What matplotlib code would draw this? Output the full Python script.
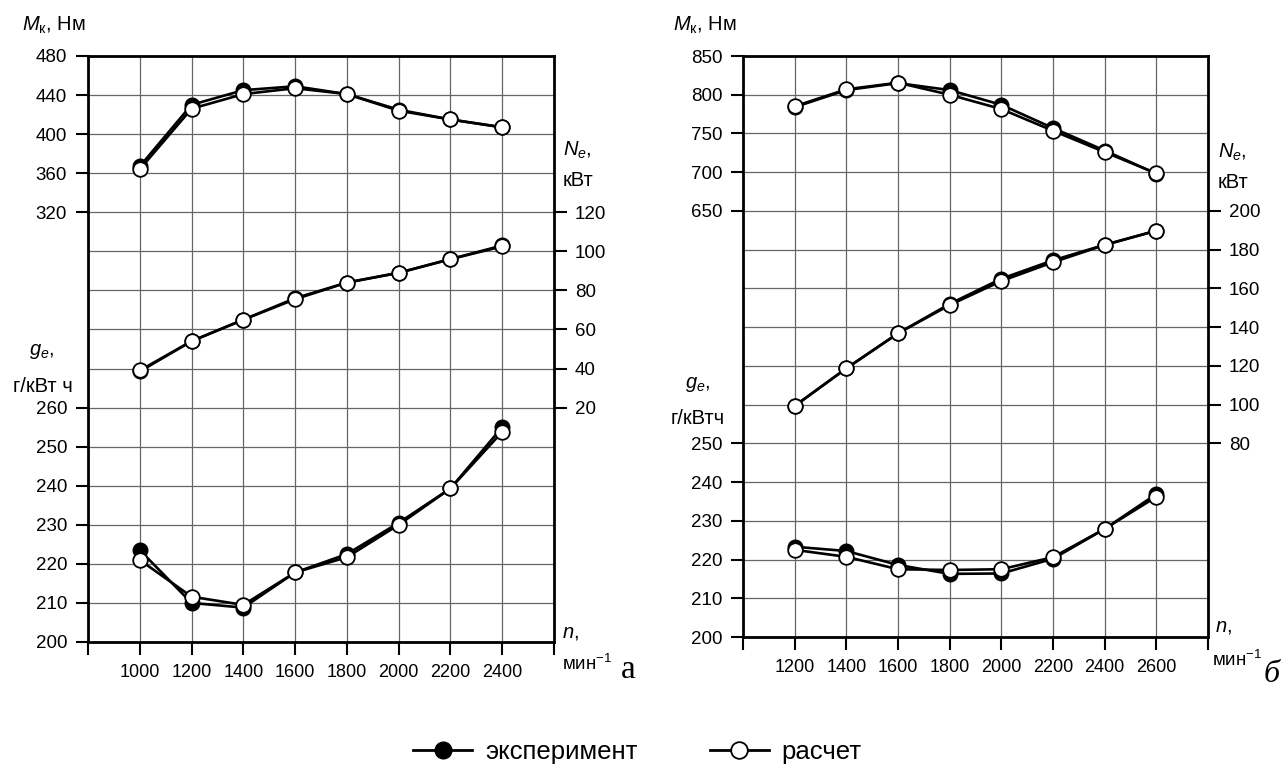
import matplotlib
matplotlib.use('Agg')
import matplotlib.pyplot as plt
from matplotlib.lines import Line2D
import numpy as np

plt.rcParams['font.family'] = ['Liberation Sans', 'DejaVu Sans']
plt.rcParams['mathtext.fontset'] = 'custom'
plt.rcParams['mathtext.rm'] = 'Liberation Sans'
plt.rcParams['mathtext.it'] = 'Liberation Sans:italic'

# панель а
n_a = [1000, 1200, 1400, 1600, 1800, 2000, 2200, 2400]
M_exp_a = [367, 430, 445, 449, 441, 425, 415, 407]
M_calc_a = [364, 426, 441, 447, 441, 424, 415, 407]
N_exp_a = [38.5, 54, 65, 76, 84, 89, 96, 103]
N_calc_a = [39, 54, 65, 75.5, 84, 89, 96, 102.5]
ge_exp_a = [223.5, 210, 208.8, 217.8, 222.5, 230.5, 239.3, 255]
ge_calc_a = [221, 211.6, 209.5, 217.8, 221.7, 230, 239.3, 253.8]

# панель б
n_b = [1200, 1400, 1600, 1800, 2000, 2200, 2400, 2600]
M_exp_b = [784, 806, 815, 806, 787, 757, 728, 698]
M_calc_b = [785, 807, 815.5, 800, 781.5, 753.5, 726, 698.5]
N_exp_b = [99.3, 118.7, 136.8, 152, 165, 174.5, 182.5, 189.8]
N_calc_b = [99.3, 118.7, 136.8, 151.4, 163.8, 173.5, 182.4, 189.8]
ge_exp_b = [223.3, 222.2, 218.6, 216.3, 216.4, 220.2, 227.9, 236.9]
ge_calc_b = [222.5, 220.7, 217.5, 217.3, 217.5, 220.6, 227.9, 236.2]

W, H = 1288, 768


def rect(left, top, right, bottom):
    return [left / W, (H - bottom) / H, (right - left) / W, (bottom - top) / H]


def curve(ax, x, y_exp, y_calc):
    ax.plot(x, y_exp, '-o', color='black', lw=1.9, ms=10.5, mfc='black', mec='black', zorder=3)
    ax.plot(x, y_calc, '-o', color='black', lw=1.9, ms=10.5, mfc='white', mec='black', mew=1.3, zorder=4)


def panel(box, xlim, ge_lim, ge_ticks, M_lim, M_ticks, N_lim, N_ticks, n, M, N, ge):
    ax = fig.add_axes(box)
    tick_kw = dict(direction='out', length=9, width=1.5, labelsize=13.5, pad=6)

    # базовая ось: g_e и сетка
    ax.set_xlim(*xlim)
    ax.set_ylim(*ge_lim)
    xt = np.arange(xlim[0], xlim[1] + 1, 200)
    ax.set_xticks(xt)
    ax.set_xticklabels([''] + [str(v) for v in xt[1:-1]] + [''])
    ax.set_yticks(ge_ticks)
    ax.set_yticks(np.arange(ge_lim[0], ge_lim[1] + 1, 10), minor=True)
    ax.tick_params(axis='y', which='minor', length=0)
    ax.tick_params(axis='both', which='major', **tick_kw)
    ax.tick_params(axis='x', pad=7, labelsize=13)
    ax.grid(True, which='both', color='#666666', lw=0.9)
    for s in ax.spines.values():
        s.set_linewidth(2)
    ax.set_axisbelow(True)

    # M_к слева сверху
    ax_m = ax.twinx()
    ax_m.yaxis.tick_left()
    ax_m.set_ylim(*M_lim)
    ax_m.set_yticks(M_ticks)
    ax_m.tick_params(axis='y', **tick_kw)

    # N_e справа
    ax_n = ax.twinx()
    ax_n.set_ylim(*N_lim)
    ax_n.set_yticks(N_ticks)
    ax_n.tick_params(axis='y', **tick_kw)

    for a in (ax_m, ax_n):
        for s in a.spines.values():
            s.set_visible(False)
        a.patch.set_visible(False)

    curve(ax, n, ge[0], ge[1])
    curve(ax_m, n, M[0], M[1])
    curve(ax_n, n, N[0], N[1])
    return ax


fig = plt.figure(figsize=(W / 100, H / 100), dpi=100)

panel(rect(88, 56, 554, 642), (800, 2600), (200, 350), np.arange(200, 261, 10),
      (-120, 480), np.arange(320, 481, 40), (-100, 200), np.arange(20, 121, 20),
      n_a, (M_exp_a, M_calc_a), (N_exp_a, N_calc_a), (ge_exp_a, ge_calc_a))

panel(rect(743, 56, 1208, 637), (1000, 2800), (200, 350), np.arange(200, 251, 10),
      (100, 850), np.arange(650, 851, 50), (-20, 280), np.arange(80, 201, 20),
      n_b, (M_exp_b, M_calc_b), (N_exp_b, N_calc_b), (ge_exp_b, ge_calc_b))


def label(x, y, s, **kw):
    kw.setdefault('fontsize', 14.5)
    fig.text(x / W, 1 - y / H, s, va='center', **kw)


# подписи осей
label(22, 25, r'$M_{\mathrm{к}}$, Нм')
label(563, 150, r'$N_{e}$,')
label(563, 181, 'кВт')
label(42, 352, r'$g_{e}$,', ha='center')
label(43, 386, 'г/кВт ч', ha='center')
label(562, 632, r'$n$,')
label(562, 664, r'мин$^{-1}$', fontsize=13.5)
label(621, 670, 'а', fontsize=24, family='Liberation Serif')

label(673, 25, r'$M_{\mathrm{к}}$, Нм')
label(1218, 152, r'$N_{e}$,')
label(1218, 182, 'кВт')
label(698, 384, r'$g_{e}$,', ha='center')
label(698, 418, 'г/кВтч', ha='center')
label(1215, 627, r'$n$,')
label(1212, 660, r'мин$^{-1}$', fontsize=13.5)
label(1264, 675, 'б', fontsize=23, family='Liberation Serif', style='italic')

h_exp = Line2D([], [], color='black', lw=2, marker='o', ms=12, mfc='black', mec='black')
h_calc = Line2D([], [], color='black', lw=2, marker='o', ms=12, mfc='white', mec='black', mew=1.3)
fig.legend([h_exp, h_calc], ['эксперимент', 'расчет'], loc='center', bbox_to_anchor=(0.495, 1 - 752 / H),
           ncol=2, frameon=False, fontsize=18.5, handlelength=2.3, handletextpad=0.5, columnspacing=2.8)

fig.savefig('out.png', dpi=100)
